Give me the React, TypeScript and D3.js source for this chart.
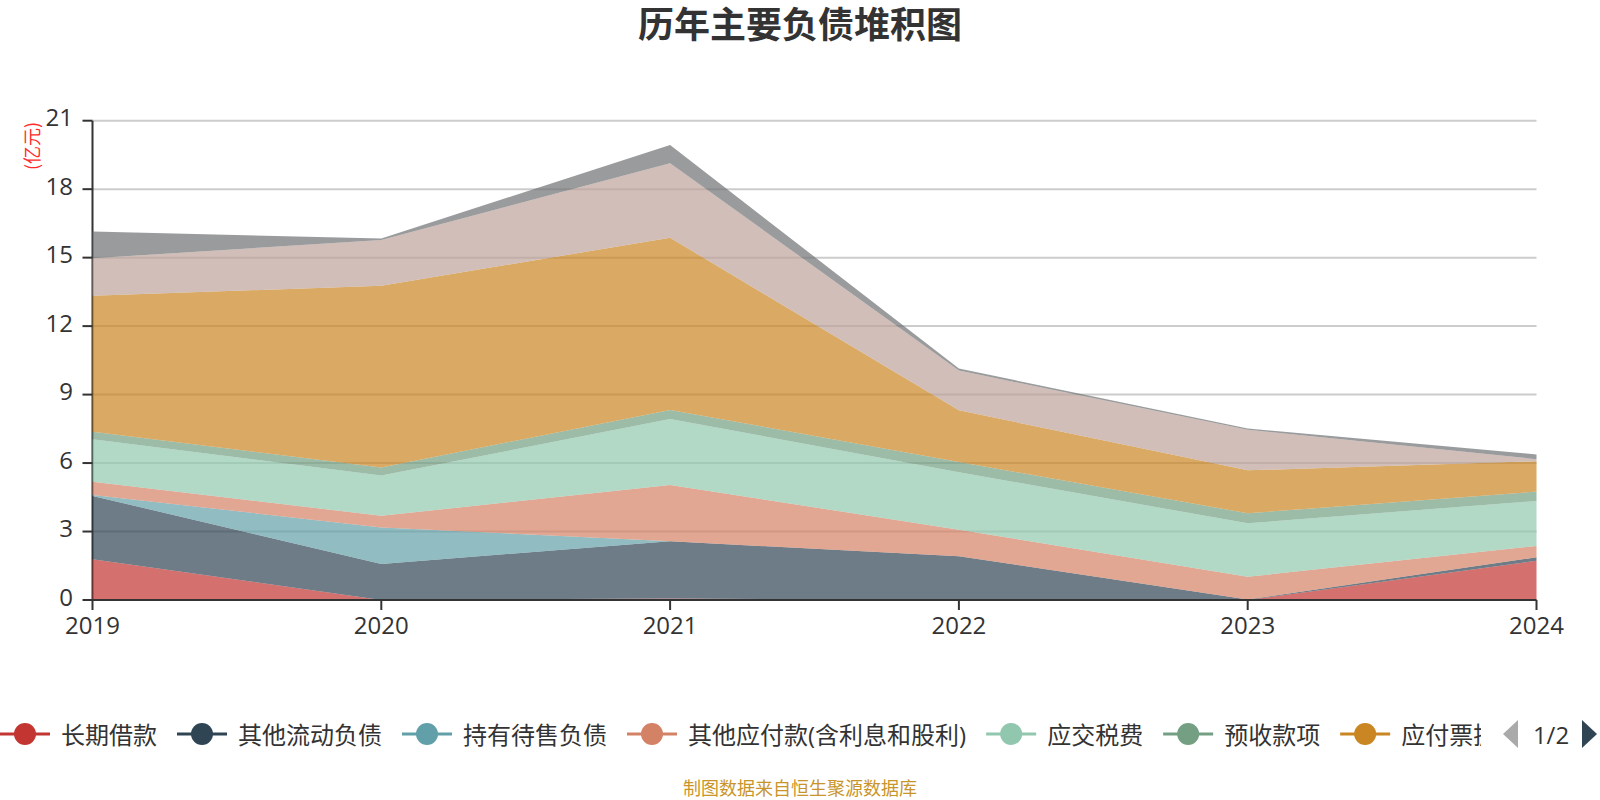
import React, { useMemo } from 'react';
import * as d3 from 'd3';

// ---- data (亿元) ----
const years = ['2019', '2020', '2021', '2022', '2023', '2024'];
const seriesNames = [
  '长期借款',
  '其他流动负债',
  '持有待售负债',
  '其他应付款(含利息和股利)',
  '应交税费',
  '预收款项',
  '应付票据及应付账款',
  '应付职工薪酬',
  '短期借款',
];
const seriesColors = ['#c23531', '#2f4554', '#61a0a8', '#d48265', '#91c7ae', '#749f83', '#ca8622', '#bda29a', '#6e7074'];

const longTermLoans = [1.78, 0, 0.07, 0, 0, 1.72];
const otherCurrentLiab = [2.78, 1.58, 2.5, 1.92, 0.02, 0.15];
const heldForSaleLiab = [0.04, 1.6, 0, 0, 0, 0];
const otherPayables = [0.58, 0.51, 2.47, 1.16, 1.0, 0.5];
const taxesPayable = [1.86, 1.76, 2.89, 2.52, 2.34, 1.97];
const advanceReceipts = [0.33, 0.36, 0.4, 0.45, 0.44, 0.41];
const notesAccountsPayable = [5.96, 7.96, 7.54, 2.26, 1.88, 1.33];
const payrollPayable = [1.64, 2.0, 3.27, 1.74, 1.78, 0.09];
const shortTermLoans = [1.17, 0.07, 0.79, 0.09, 0.05, 0.21];

const seriesValues = [
  longTermLoans,
  otherCurrentLiab,
  heldForSaleLiab,
  otherPayables,
  taxesPayable,
  advanceReceipts,
  notesAccountsPayable,
  payrollPayable,
  shortTermLoans,
];

const yTicks = [0, 3, 6, 9, 12, 15, 18, 21];
const title = '历年主要负债堆积图';
const unitLabel = '(亿元)';
const footer = '制图数据来自恒生聚源数据库';
const pageLabel = '1/2';

const FONT = "'Open Sans', 'Noto Sans CJK SC', sans-serif";
const CJK = "'Noto Sans CJK SC', 'Open Sans', sans-serif";

function measure(text: string, font: string): number {
  const c = document.createElement('canvas');
  const ctx = c.getContext('2d');
  if (!ctx) return text.length * 24;
  ctx.font = font;
  return ctx.measureText(text).width;
}

export default function App() {
  const W = 1600;
  const H = 800;
  const left = 92.5;
  const right = 1536.5;
  const top = 120.7;
  const bottom = 600;
  const legendClipRight = 1481;

  const x = d3.scalePoint<string>().domain(years).range([left, right]);
  const y = d3.scaleLinear().domain([0, 21]).range([bottom, top]);

  const table = years.map((yr, i) => {
    const row: Record<string, number | string> = { year: yr };
    seriesNames.forEach((n, k) => (row[n] = seriesValues[k][i]));
    return row;
  });
  const stacked = d3.stack<any>().keys(seriesNames)(table as any);
  const area = d3
    .area<any>()
    .x((d) => x(d.data.year) as number)
    .y0((d) => y(d[0]))
    .y1((d) => y(d[1]));

  const legendY = 734;
  const legend = useMemo(() => {
    let cx = 0;
    const items = seriesNames.map((n, i) => {
      const w = measure(n, `24px ${FONT}`);
      const item = { name: n, color: seriesColors[i], x: cx, textX: cx + 61, w };
      cx = cx + 61 + w + 20;
      return item;
    });
    // first legend page: only items that start inside the visible legend area
    return items.filter((it) => it.x < legendClipRight);
  }, []);

  return (
    <svg
      width={W}
      height={H}
      style={{ position: 'absolute', left: 0, top: 0, background: '#fff' }}
      fontFamily={FONT}
    >
      <defs>
        <clipPath id="legendClip">
          <rect x={0} y={700} width={legendClipRight} height={70} />
        </clipPath>
      </defs>
      <text x={800} y={38} textAnchor="middle" fontSize={36} fontWeight="bold" fill="#333" fontFamily={CJK}>
        {title}
      </text>

      {/* grid lines */}
      {yTicks.filter((t) => t !== 0).map((t) => (
        <line key={t} x1={left} x2={right} y1={y(t)} y2={y(t)} stroke="#ccc" strokeWidth={2} />
      ))}

      {/* y axis line (beneath areas) */}
      <line x1={left} x2={left} y1={top} y2={bottom} stroke="#333" strokeWidth={2} />

      {/* stacked areas */}
      {stacked.map((s, i) => (
        <path key={s.key} d={area(s) || ''} fill={seriesColors[i]} fillOpacity={0.7} stroke="none" />
      ))}

      {/* x axis */}
      <line x1={left} x2={right} y1={bottom} y2={bottom} stroke="#333" strokeWidth={2} />
      {years.map((yr) => (
        <g key={yr}>
          <line x1={x(yr)} x2={x(yr)} y1={bottom} y2={bottom + 10} stroke="#333" strokeWidth={2} />
          <text x={x(yr)} y={634} textAnchor="middle" fontSize={24} fill="#333">
            {yr}
          </text>
        </g>
      ))}

      {/* y ticks */}
      {yTicks.map((t) => (
        <g key={t}>
          <line x1={left - 10} x2={left} y1={y(t)} y2={y(t)} stroke="#333" strokeWidth={2} />
          <text x={73} y={y(t) + 5.5} textAnchor="end" fontSize={24} fill="#333">
            {t}
          </text>
        </g>
      ))}

      <text
        transform={`translate(31,146) rotate(-90)`}
        textAnchor="middle"
        dominantBaseline="central"
        fontSize={18}
        fill="#ff2a2a"
        fontFamily={CJK}
      >
        {unitLabel}
      </text>

      {/* legend */}
      <g clipPath="url(#legendClip)">
        {legend.map((it) => (
          <g key={it.name}>
            <line x1={it.x} x2={it.x + 50} y1={legendY} y2={legendY} stroke={it.color} strokeWidth={3} />
            <circle cx={it.x + 25} cy={legendY} r={11} fill={it.color} />
            <text x={it.textX} y={legendY} dominantBaseline="central" fontSize={24} fill="#333">
              {it.name}
            </text>
          </g>
        ))}
      </g>
      <path d={`M1518,720 L1503,734 L1518,748 Z`} fill="#aaa" />
      <text x={1551} y={legendY} textAnchor="middle" dominantBaseline="central" fontSize={24} fill="#333">
        {pageLabel}
      </text>
      <path d={`M1582,720 L1597,734 L1582,748 Z`} fill="#2f4554" />

      <text x={800} y={795} textAnchor="middle" fontSize={18} fill="#c9952b" fontFamily={CJK}>
        {footer}
      </text>
    </svg>
  );
}
